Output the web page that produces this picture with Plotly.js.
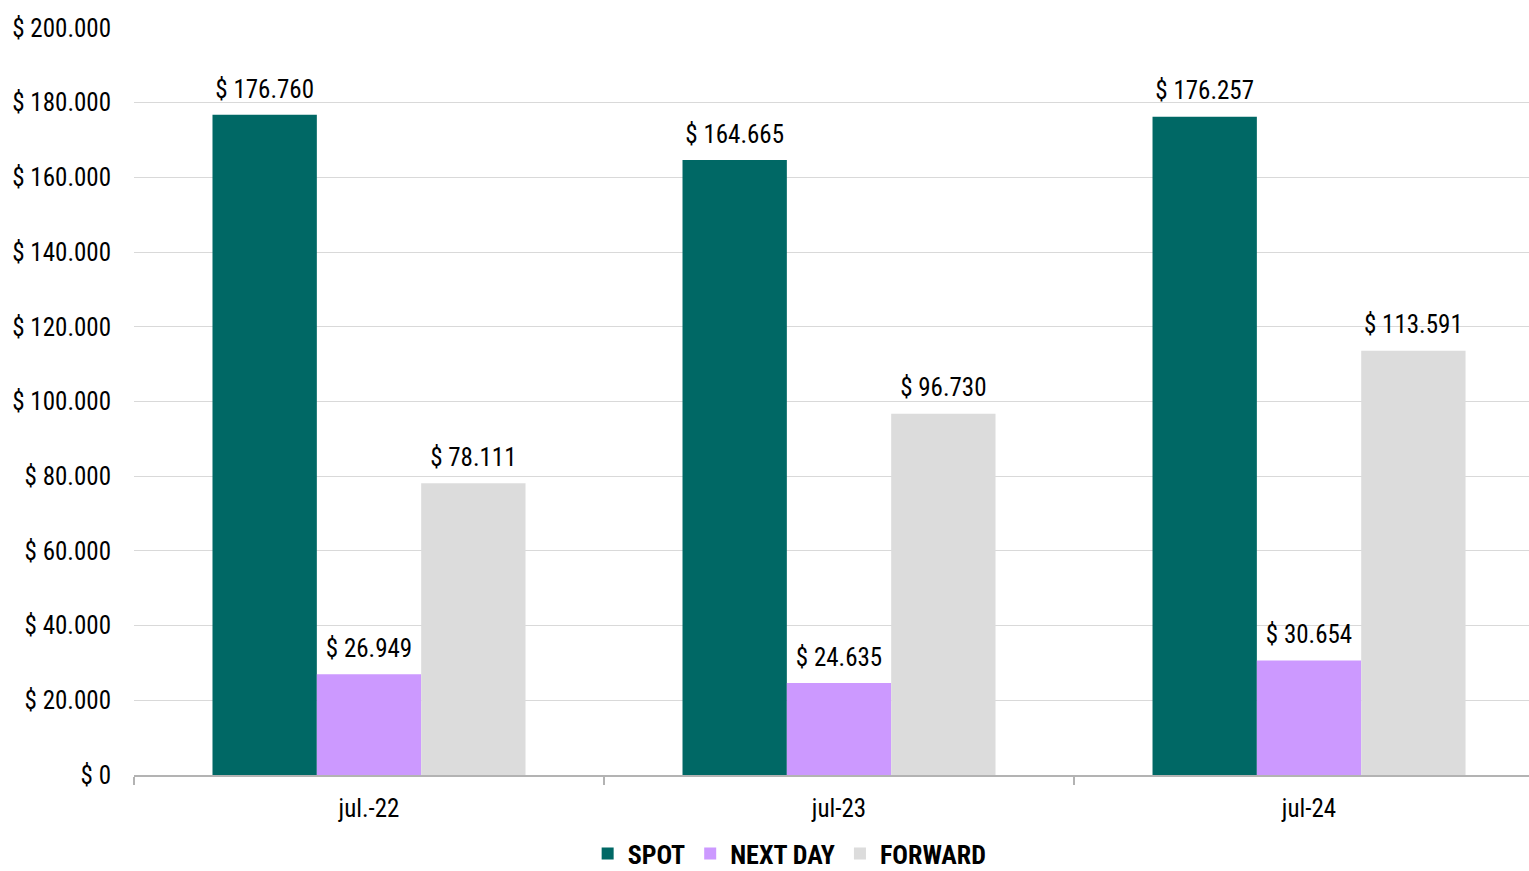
<!DOCTYPE html>
<html>
<head>
<meta charset="utf-8">
<script src="https://cdn.plot.ly/plotly-3.0.1.min.js"></script>
<style>html,body{margin:0;padding:0;background:#fff;}#chart{width:1529px;height:871px;}</style>
</head>
<body>
<div id="chart"></div>
<script>
const categories = ["jul.-22", "jul-23", "jul-24"];
const spot = [176760, 164665, 176257];
const nextDay = [26949, 24635, 30654];
const forward = [78111, 96730, 113591];
const seriesNames = ["SPOT", "NEXT DAY", "FORWARD"];
const yTicks = [0, 20000, 40000, 60000, 80000, 100000, 120000, 140000, 160000, 180000, 200000];
const yTickText = ["$ 0", "$ 20.000", "$ 40.000", "$ 60.000", "$ 80.000", "$ 100.000", "$ 120.000", "$ 140.000", "$ 160.000", "$ 180.000", "$ 200.000"];

const FONT = "'Liberation Sans Narrow', 'Arial Narrow', 'Roboto Condensed', Arial, sans-serif";
const colors = ["#006865", "#cc99ff", "#dcdcdc"];
const series = [spot, nextDay, forward];

const data = [];
series.forEach((vals, i) => {
  data.push({
    type: "bar", name: seriesNames[i], x: categories, y: vals,
    offsetgroup: String(i),
    marker: {color: colors[i], line: {width: 0}},
    hoverinfo: "x+y"
  });
});
series.forEach((vals, i) => {
  data.push({
    type: "scatter", mode: "markers+text", x: categories, y: vals,
    offsetgroup: String(i), showlegend: false, hoverinfo: "skip",
    marker: {size: 16, opacity: 0},
    texttemplate: "$ %{y:,}", textposition: "top center", cliponaxis: false,
    textfont: {family: FONT, size: 25, color: "#000"}
  });
});

const layout = {
  width: 1529, height: 871,
  margin: {l: 134, r: 0, t: 28, b: 96},
  paper_bgcolor: "#fff", plot_bgcolor: "#fff",
  separators: ",.",
  barmode: "group", bargap: 0.334, bargroupgap: 0,
  scattermode: "group", scattergap: 0.334,
  font: {family: FONT, size: 25, color: "#000"},
  xaxis: {
    type: "category", range: [-0.5, 2.468], automargin: false,
    showline: true, linecolor: "#b3b3b3", linewidth: 1.5,
    ticks: "outside", tickson: "boundaries", ticklen: 8, tickcolor: "#b3b3b3", tickwidth: 1.5,
    tickfont: {family: FONT, size: 25, color: "#000"}, ticklabelstandoff: 10,
    showgrid: false, zeroline: false
  },
  xaxis2: {
    overlaying: "x", anchor: "y", range: [-0.5, 2.468], automargin: false,
    tickmode: "array", tickvals: [0, 1, 2],
    showline: false, ticks: "outside", ticklen: 6, tickcolor: "#b3b3b3", tickwidth: 1.5,
    showticklabels: false, showgrid: false, zeroline: false
  },
  xaxis3: {
    overlaying: "x", anchor: "y", range: [-0.5, 2.468], automargin: false,
    tickmode: "array", tickvals: [-0.5, 0.5, 1.5],
    showline: false, ticks: "inside", ticklen: 8, tickcolor: "#b3b3b3", tickwidth: 1.5,
    showticklabels: false, showgrid: false, zeroline: false
  },
  yaxis: {
    range: [0, 200000], tickmode: "array", tickvals: yTicks, ticktext: yTickText, automargin: false,
    showgrid: true, gridcolor: "#d9d9d9", gridwidth: 1,
    zeroline: false, showline: false, ticks: "", ticklabelstandoff: 22,
    tickfont: {family: FONT, size: 25, color: "#000"}
  },
  legend: {
    orientation: "h", x: 0.47, xanchor: "center",
    yref: "container", y: 0.02, yanchor: "middle",
    font: {family: FONT, size: 26, color: "#000", weight: "bold"},
    itemwidth: 30, traceorder: "normal"
  },
  showlegend: true
};
Plotly.newPlot("chart", data, layout, {displayModeBar: false, staticPlot: true});
</script>
</body>
</html>
